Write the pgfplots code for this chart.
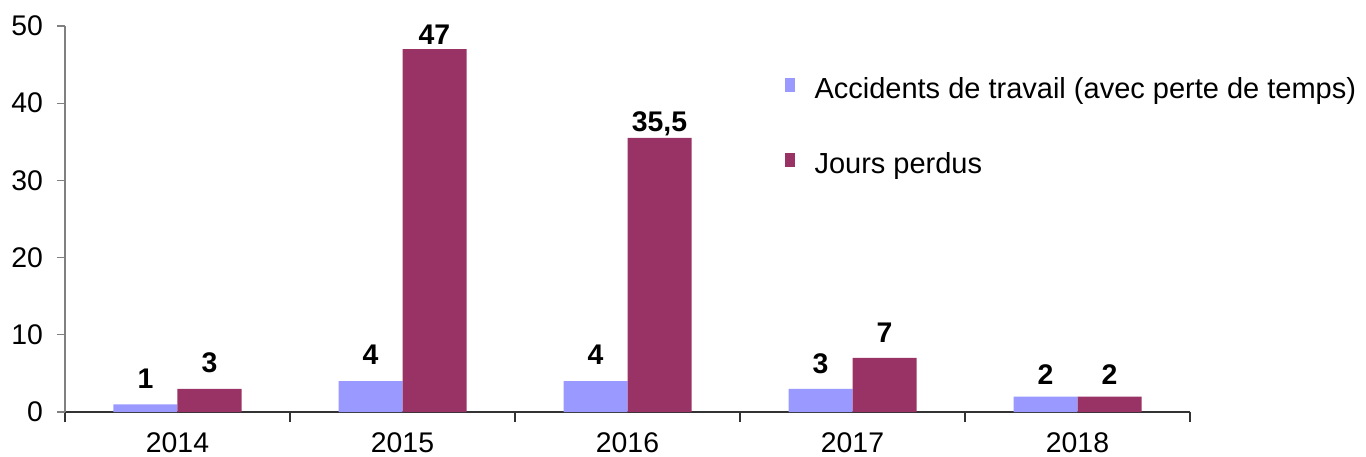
\documentclass[border=0pt]{standalone}
\usepackage{pgfplots}
\pgfplotsset{compat=1.18}
\usepackage{fontspec}
\setmainfont{Liberation Sans}
\definecolor{cblue}{HTML}{9999FF}
\definecolor{cred}{HTML}{993366}
\begin{document}
\begin{tikzpicture}
\useasboundingbox (-32.5pt,-22pt) rectangle (650.5pt,206pt);
\begin{axis}[
  at={(0,0)}, anchor=south west, scale only axis,
  width=562.5pt, height=193pt,
  xmin=-0.5, xmax=4.5, ymin=0, ymax=50,
  axis lines*=left,
  x axis line style={black!80, line width=0.6pt},
  y axis line style={gray, line width=0.6pt},
  ybar=0pt, bar width=32pt,
  xtick={0,1,2,3,4},
  xticklabels={2014,2015,2016,2017,2018},
  minor xtick={-0.5,0.5,...,4.5},
  ytick={0,10,...,50},
  tick align=outside,
  major x tick style={draw=none},
  minor x tick style={black!80, line width=0.6pt},
  minor tick length=5pt,
  major tick length=4pt,
  y tick style={gray, line width=0.6pt},
  tick label style={font=\fontsize{14.2}{16}\selectfont},
  xticklabel style={yshift=-3pt},
  yticklabel style={xshift=-3.5pt},
  /pgf/number format/assume math mode=true,
  legend style={draw=none, fill=none, at={(rel axis cs:0.6392,0.878)}, anchor=north west,
    font=\fontsize{14.5}{17}\selectfont, row sep=21.5pt, inner sep=0pt},
  legend cell align=left,
  legend image code/.code={\fill[#1] (0pt,-1pt) rectangle (5pt,6pt); \path (13pt,0pt);},
  nodes near coords,
  point meta=explicit symbolic,
  visualization depends on={\thisrow{s} \as \lshift},
  every node near coord/.append style={font=\bfseries\fontsize{14.2}{16}\selectfont, anchor=center, yshift=\lshift pt, black},
]
\addplot[fill=cblue, draw=none] table[x=x, y=y, meta=l] {
x y l s
0 1 1 13
1 4 4 13
2 4 4 13
3 3 3 12.5
4 2 2 11
};
\addplot[fill=cred, draw=none] table[x=x, y=y, meta=l] {
x y l s
0 3 3 13
1 47 47 7
2 35.5 {35,5} 7
3 7 7 12.5
4 2 2 11
};
\legend{Accidents de travail (avec perte de temps), Jours perdus}
\end{axis}
\end{tikzpicture}
\end{document}
